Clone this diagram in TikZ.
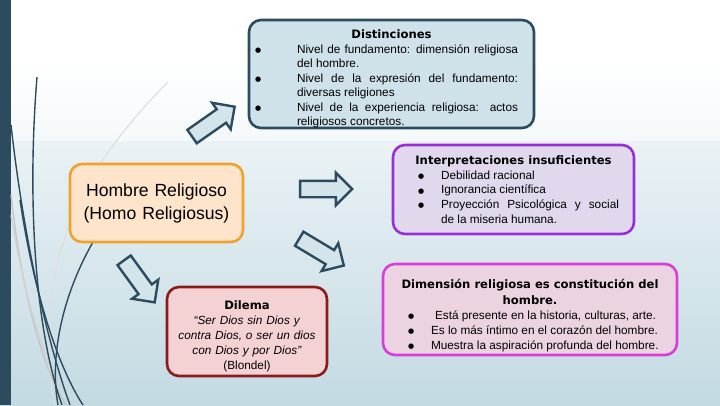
\documentclass[tikz,border=0pt]{standalone}
\usepackage{fontspec}
\setmainfont{Liberation Sans}
\newfontfamily\titlefont{DejaVu Sans}
\usetikzlibrary{shapes.arrows}

\definecolor{slate}{HTML}{2D4B5F}
\definecolor{bgmid}{HTML}{E6F0F3}
\definecolor{bgbot}{HTML}{C3DAE2}
\definecolor{arrowfill}{HTML}{D3E4EB}
\definecolor{distfill}{HTML}{CFE1E9}
\definecolor{interfill}{HTML}{E1D8EE}
\definecolor{interline}{HTML}{9B2FD6}
\definecolor{dimfill}{HTML}{EBD3E2}
\definecolor{dimline}{HTML}{D93CD9}
\definecolor{dilfill}{HTML}{F4D1D3}
\definecolor{dilline}{HTML}{8B1A1A}
\definecolor{homfill}{HTML}{FDE4CA}
\definecolor{homline}{HTML}{F0A12E}

% bullet item: bullet in a box of width #1, then hanging text
\newcommand{\blt}{\raisebox{0.6bp}{\titlefont\fontsize{7bp}{7bp}\selectfont ●}}
\newcommand{\itm}[2][23bp]{\par\hangindent=#1\hangafter=1\noindent\makebox[#1][l]{\blt}#2\par}
% bold box title
\newcommand{\boxtitle}[1]{{\titlefont\bfseries\fontsize{11.6bp}{16bp}\selectfont #1}}

\tikzset{
  box/.style={draw, rounded corners=12bp, line width=2.6bp, inner xsep=0pt, inner ysep=3bp,
              text width=#1, align=justify, font=\fontsize{11.8bp}{14.7bp}\selectfont},
  blockarrow/.style={single arrow, draw=slate, fill=arrowfill, line width=2.4bp, inner sep=0pt,
              minimum height=52bp, single arrow head extend=8bp}
}

\begin{document}
\begin{tikzpicture}[x=1bp, y=-1bp]
\useasboundingbox (0,0) rectangle (720,405);

% ── BACKGROUND ──────────────────────────────────────────────
\shade[top color=white, middle color=bgmid, bottom color=bgbot] (0,0) rectangle (720,405);
\fill[white] (0,0) rectangle (720,60);
\shade[top color=white, bottom color=white!60!bgmid] (0,60) rectangle (720,140);
\fill[slate] (0,0) rectangle (11,405);

% decorative strokes on the left
\draw[gray!25, line width=1.2bp] (168,82) .. controls (120,130) and (75,190) .. (62,250);
\draw[gray!25, line width=1.2bp] (63,243) .. controls (45,300) and (45,360) .. (55,405);
\draw[gray!45, line width=1.4bp] (11,195) .. controls (25,320) and (50,380) .. (66,405);
\draw[gray!35, line width=1.4bp] (11,215) .. controls (30,330) and (55,385) .. (74,405);
\draw[slate, line width=1.4bp] (37,77) .. controls (27,200) and (35,330) .. (62,405);
\draw[slate, line width=1.4bp] (11,125) .. controls (25,250) and (50,350) .. (70,405);
\draw[slate, line width=1.4bp] (20,200) .. controls (35,300) and (60,370) .. (83,405);
\draw[slate, line width=1.4bp] (93,242) .. controls (60,300) and (50,360) .. (58,405);

% ── BOXES ───────────────────────────────────────────────────
\node[box=285bp, fill=distfill, draw=slate, minimum height=108bp, inner ysep=0pt,
      font=\fontsize{11.8bp}{14.5bp}\selectfont] (dist) at (391.5,74) {%
  \par\vspace*{4bp}\noindent\makebox[\linewidth]{\boxtitle{Distinciones}}\par
  {\leftskip=6bp \rightskip=16bp
  \itm[42bp]{Nivel de fundamento: dimensión religiosa\linebreak del hombre.}
  \itm[42bp]{Nivel de la expresión del fundamento:\linebreak diversas religiones}
  \itm[42bp]{Nivel de la experiencia religiosa: actos\linebreak religiosos concretos.}}};

\node[box=241bp, fill=interfill, draw=interline, minimum height=89bp] (inter) at (513.5,189.5) {%
  \makebox[\linewidth]{\boxtitle{Interpretaciones insuficientes}}\par
  {\leftskip=25bp \rightskip=15bp
  \itm{Debilidad racional}
  \itm{Ignorancia científica}
  \itm{Proyección Psicológica y social\linebreak de la miseria humana.}}};

\node[box=294bp, fill=dimfill, draw=dimline, minimum height=91bp,
      font=\fontsize{11.8bp}{15bp}\selectfont] (dim) at (530,309.5) {%
  \par\vspace*{5bp}{\centering\titlefont\bfseries\fontsize{11.6bp}{16bp}\selectfont
   Dimensión religiosa es constitución del\\ hombre.\par}
  {\leftskip=25bp \rightskip=0pt plus 1fil
  \itm{\hspace{4bp}Está presente en la historia, culturas, arte.}
  \itm{Es lo más íntimo en el corazón del hombre.}
  \itm{Muestra la aspiración profunda del hombre.}}};

\node[box=160bp, fill=dilfill, draw=dilline, minimum height=89bp, align=center,
      font=\fontsize{11.8bp}{15bp}\selectfont] (dil) at (247,331.5) {%
  \par\vspace*{3bp}\boxtitle{Dilema}\\
  \textit{“Ser Dios sin Dios y}\\
  \textit{contra Dios, o ser un dios}\\
  \textit{con Dios y por Dios”}\\
  (Blondel)};

\node[box=173bp, fill=homfill, draw=homline, minimum height=78bp, align=center,
      font=\fontsize{17.6bp}{23bp}\selectfont] (hom) at (156.5,203) {%
  Hombre Religioso\\ (Homo Religiosus)};

% ── BLOCK ARROWS ────────────────────────────────────────────
\node[blockarrow, rotate=35] (toDist) at (210,124) {\rule{0pt}{14bp}};
\node[blockarrow] (toInter) at (322,189) {\rule{0pt}{14bp}};
\node[blockarrow, rotate=-31] (toDim) at (318,250) {\rule{0pt}{14bp}};
\node[blockarrow, rotate=-54] (toDil) at (137,278) {\rule{0pt}{14bp}};

\end{tikzpicture}
\end{document}
